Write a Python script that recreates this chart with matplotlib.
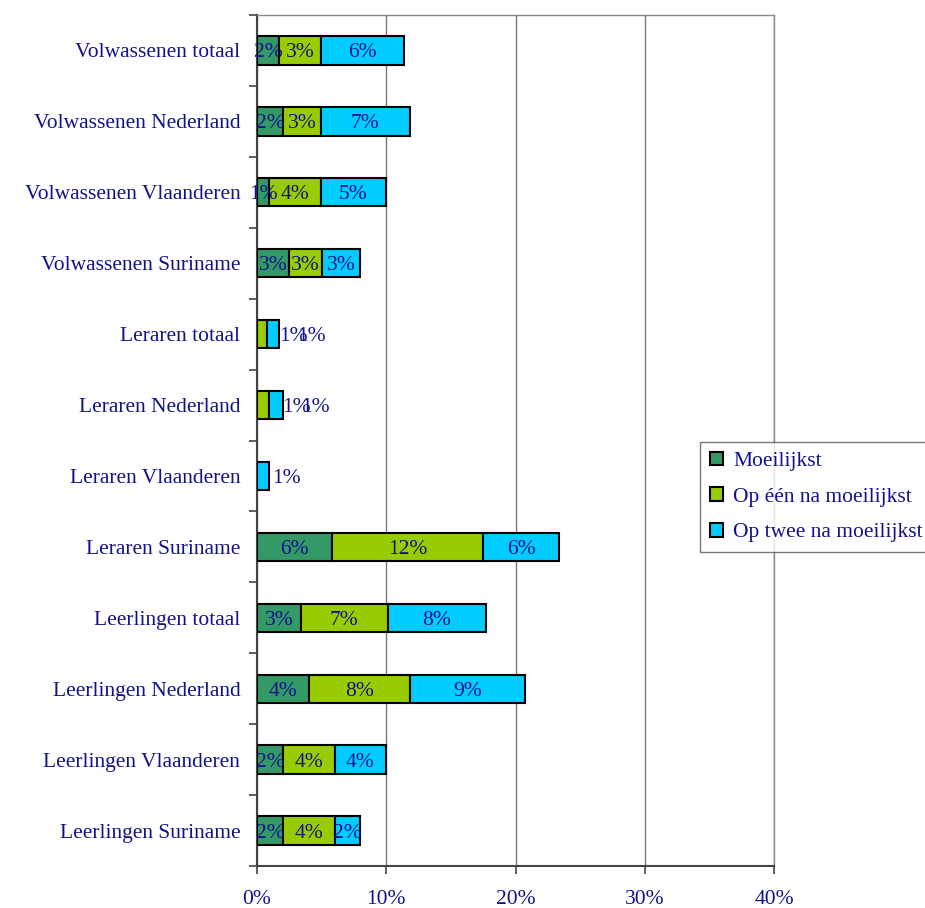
import matplotlib
matplotlib.use("Agg")
import matplotlib.pyplot as plt
from matplotlib.patches import Patch
import numpy as np

categories = ["Volwassenen totaal", "Volwassenen Nederland", "Volwassenen Vlaanderen",
              "Volwassenen Suriname", "Leraren totaal", "Leraren Nederland",
              "Leraren Vlaanderen", "Leraren Suriname", "Leerlingen totaal",
              "Leerlingen Nederland", "Leerlingen Vlaanderen", "Leerlingen Suriname"]
moeilijkst = [1.71, 2.01, 0.94, 2.50, 0.0, 0.0, 0.0, 5.82, 3.39, 4.00, 2.01, 2.01]
op_een = [3.21, 2.91, 3.98, 2.50, 0.76, 0.94, 0.0, 11.66, 6.74, 7.82, 4.04, 4.04]
op_twee = [6.44, 6.90, 5.03, 3.00, 0.97, 1.05, 0.94, 5.89, 7.55, 8.88, 3.90, 1.94]
series_names = ["Moeilijkst", "Op één na moeilijkst", "Op twee na moeilijkst"]
colors = ["#339966", "#99CC00", "#00CCFF"]
xticks = [0, 10, 20, 30, 40]
xticklabels = ["0%", "10%", "20%", "30%", "40%"]

navy = "#12128a"
plt.rcParams['font.family'] = ['Liberation Serif', 'DejaVu Serif']
FS = 15.5

fig = plt.figure(figsize=(9.25, 9.08), dpi=100)
ax = fig.add_axes([257/925, 1-866/908, (774-257)/925, (866-15)/908])

series = [moeilijkst, op_een, op_twee]
y = np.arange(len(categories))
left = np.zeros(len(categories))
for vals, c in zip(series, colors):
    ax.barh(y, vals, left=left, height=0.4, color=c, edgecolor="black", linewidth=1.5, zorder=3)
    left += np.array(vals)

# data labels
totals = left.copy()
for i in range(len(categories)):
    segs = [s[i] for s in series]
    nonzero = [v for v in segs if v > 0]
    small = all(v < 1.5 for v in nonzero)
    if small:
        xpos = totals[i] + (0.2 if len(nonzero) == 1 else -0.05)
        for v in segs:
            if v > 0:
                ax.text(xpos, y[i], f"{int(np.floor(v + 0.5))}%", ha="left", va="center_baseline",
                        color=navy, fontsize=FS, zorder=4)
                xpos += 1.45
    else:
        start = 0
        for v in segs:
            if v > 0:
                ax.text(start + v/2, y[i], f"{int(np.floor(v + 0.5))}%", ha="center",
                        va="center_baseline", color=navy, fontsize=FS, zorder=4)
            start += v

ax.set_xlim(0, 40)
ax.set_ylim(len(categories) - 0.5, -0.5)
ax.set_xticks(xticks)
ax.set_xticklabels(xticklabels)
ax.set_yticks(y)
ax.set_yticklabels(categories)
ax.set_yticks(np.arange(-0.5, len(categories) + 0.5, 1), minor=True)
ax.tick_params(axis="y", which="major", length=0, pad=12, labelsize=FS, labelcolor=navy)
ax.tick_params(axis="y", which="minor", length=6, width=1.2, color="#444444", direction="out")
ax.tick_params(axis="x", which="major", length=6, width=1.2, color="#444444", direction="out",
               pad=11, labelsize=FS, labelcolor=navy)

ax.xaxis.grid(True, color="#777777", linewidth=1.0, zorder=0)
for s in ["top", "right"]:
    ax.spines[s].set_color("#888888")
    ax.spines[s].set_linewidth(1.0)
for s in ["left", "bottom"]:
    ax.spines[s].set_color("#444444")
    ax.spines[s].set_linewidth(1.5)

handles = [Patch(facecolor=c, edgecolor="black", linewidth=1.5) for c in colors]
leg = fig.legend(handles, series_names, loc="center left", bbox_to_anchor=(700/925, 1-497/908),
                 frameon=True, fancybox=False, edgecolor="#555555", fontsize=FS,
                 handlelength=0.6, handleheight=0.6, handletextpad=0.5, labelspacing=0.75,
                 borderpad=0.45, borderaxespad=0)
for t in leg.get_texts():
    t.set_color(navy)
leg.get_frame().set_linewidth(1.0)

fig.savefig("out.png", dpi=100)
